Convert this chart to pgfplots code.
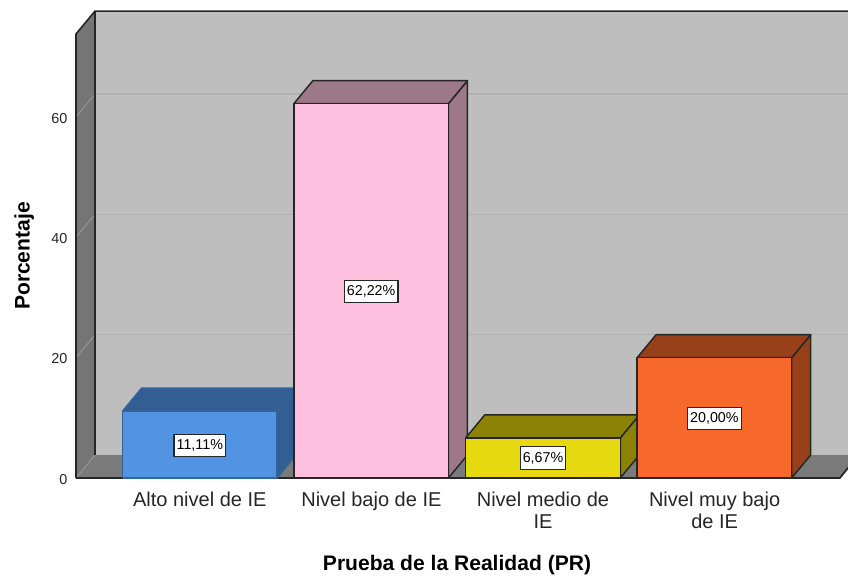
\documentclass[border=0pt]{standalone}
\usepackage{pgfplots}
\pgfplotsset{compat=1.18}
\usepackage{fontspec}
\setmainfont{Liberation Sans}
\definecolor{wall}{HTML}{BEBEBE}
\definecolor{sidewall}{HTML}{757575}
\definecolor{floorc}{HTML}{7A7A7A}
\definecolor{edge}{HTML}{262626}
\definecolor{gridb}{HTML}{B1B1B1}
\definecolor{gridl}{HTML}{9A9A9A}
\definecolor{aF}{HTML}{5294E2}\definecolor{aS}{HTML}{335E94}\definecolor{aE}{HTML}{34639C}
\definecolor{bF}{HTML}{FFC0E0}\definecolor{bS}{HTML}{9C7888}
\definecolor{cF}{HTML}{E6D90F}\definecolor{cS}{HTML}{8C8205}
\definecolor{dF}{HTML}{F6692A}\definecolor{dS}{HTML}{984019}
% x centre, value, front colour, side colour, edge colour
\newcommand{\threedbar}[5]{%
  \pgfmathsetmacro{\xl}{#1-0.4503}%
  \pgfmathsetmacro{\xr}{#1+0.4503}%
  \pgfmathsetmacro{\xlb}{#1-0.4503+0.1107}%
  \pgfmathsetmacro{\xrb}{#1+0.4503+0.1107}%
  \pgfmathsetmacro{\yt}{#2+3.82}%
  \addplot[fill=#4,draw=#5,line width=1.1pt,line join=round] coordinates {(\xr,0) (\xrb,3.82) (\xrb,\yt) (\xr,#2) (\xr,0)};
  \addplot[fill=#4,draw=#5,line width=1.1pt,line join=round] coordinates {(\xl,#2) (\xlb,\yt) (\xrb,\yt) (\xr,#2) (\xl,#2)};
  \addplot[fill=#3,draw=#5,line width=1.1pt,line join=round] coordinates {(\xl,0) (\xl,#2) (\xr,#2) (\xr,0) (\xl,0)};
}
\tikzset{datalabel/.style={fill=white,draw=edge,line width=0.8pt,inner xsep=2pt,inner ysep=0pt,minimum height=17pt,font=\fontsize{10.7}{12}\selectfont}}
\begin{document}
\begin{tikzpicture}
\useasboundingbox (0,0) rectangle (636pt,432pt);
\begin{axis}[
  at={(52.5pt,0pt)}, anchor=south west,
  scale only axis, width=583.5pt, height=432pt,
  xmin=-0.7564, xmax=3.7774, ymin=-16.287, ymax=79.44,
  axis line style={draw=none},
  major tick length=0pt,
  xtick={0,1,2,3},
  xticklabels={{Alto nivel de IE},{Nivel bajo de IE},{Nivel medio de\\IE},{Nivel muy bajo\\de IE}},
  ytick={0,20,40,60},
  /pgf/number format/assume math mode=true,
  xticklabel style={font=\fontsize{15}{16.5}\selectfont,align=center,anchor=north,inner sep=0pt,yshift=63.4pt,text=black!85},
  yticklabel style={font=\fontsize{10.8}{12}\selectfont,inner sep=0pt,xshift=-1.7pt,yshift=-0.9pt,text=black!85},
  xlabel={Prueba de la Realidad (PR)},
  ylabel={Porcentaje},
  xlabel style={font=\fontsize{15.8}{18}\bfseries,at={(axis cs:1.499,-14.4)},anchor=center,inner sep=0pt},
  ylabel style={font=\fontsize{15.8}{18}\bfseries,at={(axis cs:-1.024,36.9)},anchor=center,inner sep=0pt},
]
% back wall, side wall, floor
\addplot[fill=wall,draw=none] coordinates {(-0.6107,3.82) (-0.6107,77.6) (3.9,77.6) (3.9,3.82) (-0.6107,3.82)};
\addplot[fill=sidewall,draw=none] coordinates {(-0.7214,0) (-0.7214,73.8) (-0.6107,77.6) (-0.6107,3.82) (-0.7214,0)};
\addplot[fill=floorc,draw=none] coordinates {(-0.7214,0) (-0.6107,3.82) (3.84,3.82) (3.7295,0) (-0.7214,0)};
% grid
\addplot[gridb,line width=1pt] coordinates {(-0.6107,23.82) (3.9,23.82)};
\addplot[gridb,line width=1pt] coordinates {(-0.6107,43.82) (3.9,43.82)};
\addplot[gridb,line width=1pt] coordinates {(-0.6107,63.82) (3.9,63.82)};
\addplot[gridl,line width=0.6pt] coordinates {(-0.7214,0) (-0.6107,3.82)};
\addplot[gridl,line width=0.6pt] coordinates {(-0.7214,20) (-0.6107,23.82)};
\addplot[gridl,line width=0.6pt] coordinates {(-0.7214,40) (-0.6107,43.82)};
\addplot[gridl,line width=0.6pt] coordinates {(-0.7214,60) (-0.6107,63.82)};
% frame
\addplot[edge,line width=1.2pt] coordinates {(-0.7214,0) (-0.7214,73.8) (-0.6107,77.6) (3.9,77.6)};
\addplot[edge,line width=1.2pt] coordinates {(-0.6107,77.6) (-0.6107,3.82)};
\addplot[edge,line width=1.3pt] coordinates {(-0.7214,0) (3.7295,0) (3.84,3.82)};
% bars
\threedbar{0}{11.11}{aF}{aS}{aE}
\threedbar{0.9986}{62.22}{bF}{bS}{edge}
\threedbar{2}{6.67}{cF}{cS}{edge}
\threedbar{2.9988}{20.00}{dF}{dS}{edge}
% data labels
\node[datalabel] at (axis cs:0,5.4) {11,11\%};
\node[datalabel] at (axis cs:0.9986,31) {62,22\%};
\node[datalabel] at (axis cs:2,3.3) {6,67\%};
\node[datalabel] at (axis cs:2.9988,9.9) {20,00\%};
\end{axis}
\end{tikzpicture}
\end{document}
